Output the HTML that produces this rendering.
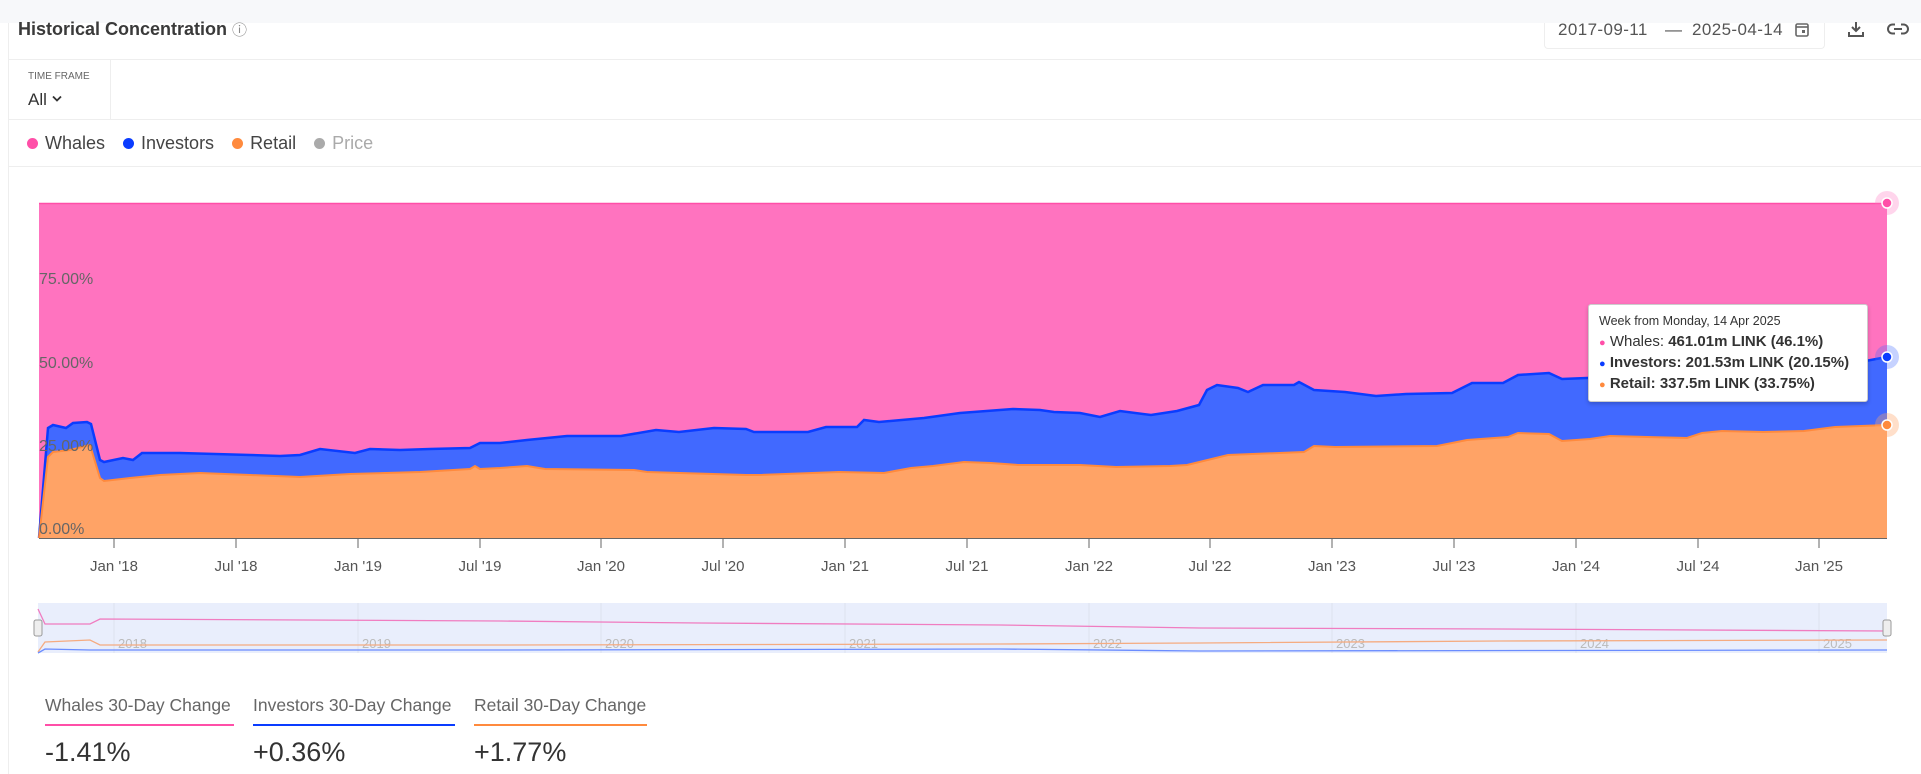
<!DOCTYPE html>
<html><head><meta charset="utf-8"><style>
*{margin:0;padding:0;box-sizing:border-box}
body{width:1921px;height:774px;background:#fff;font-family:"Liberation Sans",sans-serif;position:relative;overflow:hidden;color:#333}
.a{position:absolute;white-space:nowrap}
</style></head><body>
<div class="a" style="left:0;top:0;width:1921px;height:23px;background:#f7f8fa"></div>
<div class="a" style="left:8px;top:23px;width:1px;height:751px;background:#eee"></div>
<div class="a" style="left:18px;top:19px;font-size:18px;font-weight:bold;color:#3a3a3a">Historical Concentration <span style="font-weight:normal;color:#888;font-size:15px">ⓘ</span></div>
<div class="a" style="left:1544px;top:23px;width:281px;height:26px;border:1px solid #eee;border-top:none;border-radius:0 0 4px 4px"></div>
<div class="a" style="left:1558px;top:20px;font-size:17px;color:#555;letter-spacing:0.4px">2017-09-11</div>
<div class="a" style="left:1665px;top:20px;font-size:17px;color:#555">—</div>
<div class="a" style="left:1692px;top:20px;font-size:17px;color:#555;letter-spacing:0.4px">2025-04-14</div>
<svg class="a" style="left:1795px;top:22px" width="14" height="15"><rect x="1" y="2" width="12" height="12" rx="1.5" fill="none" stroke="#666" stroke-width="1.6"/><line x1="1" y1="5" x2="13" y2="5" stroke="#666" stroke-width="1.6"/><rect x="7" y="8" width="3" height="3" fill="#666"/></svg>
<svg class="a" style="left:1847px;top:20px" width="18" height="18"><path d="M9 2v9M5 7l4 4 4-4M2 12v4h14v-4" fill="none" stroke="#555" stroke-width="2"/></svg>
<svg class="a" style="left:1887px;top:22px" width="22" height="14"><path d="M8 2.5H5.5a4.5 4.5 0 0 0 0 9H8M14 2.5h2.5a4.5 4.5 0 0 1 0 9H14M7 7h8" fill="none" stroke="#555" stroke-width="2"/></svg>
<div class="a" style="left:9px;top:59px;width:1912px;height:1px;background:#eee"></div>
<div class="a" style="left:110px;top:60px;width:1px;height:59px;background:#eee"></div>
<div class="a" style="left:28px;top:71px;font-size:10px;color:#666">TIME FRAME</div>
<div class="a" style="left:28px;top:90px;font-size:17px;color:#333">All</div>
<svg class="a" style="left:52px;top:95px" width="10" height="8"><path d="M1 1.5l4 4 4-4" fill="none" stroke="#333" stroke-width="1.8"/></svg>
<div class="a" style="left:9px;top:119px;width:1912px;height:1px;background:#eee"></div>
<div class="a" style="left:27px;top:133px;font-size:18px;color:#444">
<span style="display:inline-block;width:11px;height:11px;border-radius:50%;background:#ff4fa8;margin-right:7px"></span>Whales
<span style="display:inline-block;width:11px;height:11px;border-radius:50%;background:#0a3cff;margin:0 7px 0 13px"></span>Investors
<span style="display:inline-block;width:11px;height:11px;border-radius:50%;background:#ff8a3d;margin:0 7px 0 13px"></span>Retail
<span style="display:inline-block;width:11px;height:11px;border-radius:50%;background:#aaa;margin:0 7px 0 13px"></span><span style="color:#aaa">Price</span></div>
<div class="a" style="left:9px;top:166px;width:1912px;height:1px;background:#eee"></div>

<svg class="a" style="left:0;top:0" width="1921" height="774">
<rect x="39" y="203" width="1848" height="335" fill="#ff73bf"/>
<line x1="39" y1="203.5" x2="1887" y2="203.5" stroke="#ff4fa8" stroke-width="1.5"/>
<polygon fill="#4169ff" points="39,538 48,428 53,425 66,428 73,423 87,422 91,424 100,460 104,462 123,458 133,460 142,453 180,453 250,455 280,456 300,455 320,449 355,453 370,449 400,450 430,449 470,448 480,443 500,443 527,440 567,436 621,436 656,430 679,432 714,428 746,429 754,432 808,432 826,427 857,427 864,420 879,422 924,418 960,413 1013,409 1040,410 1054,412 1080,413 1100,417 1120,411 1151,415 1177,411 1199,405 1207,390 1217,385 1238,388 1248,392 1263,385 1294,385 1299,382 1314,390 1345,392 1376,396 1406,394 1452,393 1472,383 1503,383 1518,375 1549,373 1562,379 1587,378 1650,376 1720,373 1800,368 1860,362 1887,357 1887,538"/>
<polyline fill="none" stroke="#0a3cff" stroke-width="2.5" points="39,538 48,428 53,425 66,428 73,423 87,422 91,424 100,460 104,462 123,458 133,460 142,453 180,453 250,455 280,456 300,455 320,449 355,453 370,449 400,450 430,449 470,448 480,443 500,443 527,440 567,436 621,436 656,430 679,432 714,428 746,429 754,432 808,432 826,427 857,427 864,420 879,422 924,418 960,413 1013,409 1040,410 1054,412 1080,413 1100,417 1120,411 1151,415 1177,411 1199,405 1207,390 1217,385 1238,388 1248,392 1263,385 1294,385 1299,382 1314,390 1345,392 1376,396 1406,394 1452,393 1472,383 1503,383 1518,375 1549,373 1562,379 1587,378 1650,376 1720,373 1800,368 1860,362 1887,357"/>
<polygon fill="#ffa366" points="39,538 48,457 53,452 70,450 90,445 100,478 104,481 130,478 160,475 200,473 250,475 300,477 350,474 420,472 470,469 475,466 480,469 500,468 527,466 545,469 634,470 647,472 746,475 759,475 839,472 884,473 911,468 933,466 964,462 991,463 1018,465 1080,465 1116,467 1170,466 1187,465 1228,455 1304,452 1314,446 1335,447 1437,446 1467,440 1508,437 1518,433 1549,434 1562,441 1590,439 1610,436 1687,438 1702,433 1722,431 1763,432 1804,431 1835,427 1887,425 1887,538"/>
<polyline fill="none" stroke="#ff8a3d" stroke-width="2" points="39,538 48,457 53,452 70,450 90,445 100,478 104,481 130,478 160,475 200,473 250,475 300,477 350,474 420,472 470,469 475,466 480,469 500,468 527,466 545,469 634,470 647,472 746,475 759,475 839,472 884,473 911,468 933,466 964,462 991,463 1018,465 1080,465 1116,467 1170,466 1187,465 1228,455 1304,452 1314,446 1335,447 1437,446 1467,440 1508,437 1518,433 1549,434 1562,441 1590,439 1610,436 1687,438 1702,433 1722,431 1763,432 1804,431 1835,427 1887,425"/>
<g font-family="Liberation Sans" font-size="16" fill="#666">
<text x="39" y="284">75.00%</text><text x="39" y="368">50.00%</text><text x="39" y="451">25.00%</text><text x="39" y="534">0.00%</text>
</g>
<line x1="39" y1="538.5" x2="1887" y2="538.5" stroke="#666" stroke-width="1"/>
<g stroke="#666" stroke-width="1">
<line x1="114" y1="538" x2="114" y2="548"/><line x1="236" y1="538" x2="236" y2="548"/><line x1="358" y1="538" x2="358" y2="548"/><line x1="480" y1="538" x2="480" y2="548"/><line x1="601" y1="538" x2="601" y2="548"/><line x1="723" y1="538" x2="723" y2="548"/><line x1="845" y1="538" x2="845" y2="548"/><line x1="967" y1="538" x2="967" y2="548"/><line x1="1089" y1="538" x2="1089" y2="548"/><line x1="1210" y1="538" x2="1210" y2="548"/><line x1="1332" y1="538" x2="1332" y2="548"/><line x1="1454" y1="538" x2="1454" y2="548"/><line x1="1576" y1="538" x2="1576" y2="548"/><line x1="1698" y1="538" x2="1698" y2="548"/><line x1="1819" y1="538" x2="1819" y2="548"/>
</g>
<g font-family="Liberation Sans" font-size="15" fill="#555" text-anchor="middle">
<text x="114" y="571">Jan '18</text><text x="236" y="571">Jul '18</text><text x="358" y="571">Jan '19</text><text x="480" y="571">Jul '19</text><text x="601" y="571">Jan '20</text><text x="723" y="571">Jul '20</text><text x="845" y="571">Jan '21</text><text x="967" y="571">Jul '21</text><text x="1089" y="571">Jan '22</text><text x="1210" y="571">Jul '22</text><text x="1332" y="571">Jan '23</text><text x="1454" y="571">Jul '23</text><text x="1576" y="571">Jan '24</text><text x="1698" y="571">Jul '24</text><text x="1819" y="571">Jan '25</text>
</g>
<circle cx="1887" cy="203" r="12" fill="#ff73bf" opacity="0.3"/><circle cx="1887" cy="203" r="5" fill="#ff4fa8" stroke="#fff" stroke-width="1.5"/>
<circle cx="1887" cy="357" r="12" fill="#4169ff" opacity="0.3"/><circle cx="1887" cy="357" r="5" fill="#0a3cff" stroke="#fff" stroke-width="1.5"/>
<circle cx="1887" cy="425" r="12" fill="#ffa366" opacity="0.35"/><circle cx="1887" cy="425" r="5" fill="#ff8a3d" stroke="#fff" stroke-width="1.5"/>
<rect x="38" y="603" width="1849" height="50" fill="#e9eefc"/>
<g stroke="#dde2ee" stroke-width="1"><line x1="114" y1="603" x2="114" y2="653"/><line x1="358" y1="603" x2="358" y2="653"/><line x1="601" y1="603" x2="601" y2="653"/><line x1="845" y1="603" x2="845" y2="653"/><line x1="1089" y1="603" x2="1089" y2="653"/><line x1="1332" y1="603" x2="1332" y2="653"/><line x1="1576" y1="603" x2="1576" y2="653"/><line x1="1819" y1="603" x2="1819" y2="653"/></g>
<g font-family="Liberation Sans" font-size="13" fill="#bbb"><text x="118" y="648">2018</text><text x="362" y="648">2019</text><text x="605" y="648">2020</text><text x="849" y="648">2021</text><text x="1093" y="648">2022</text><text x="1336" y="648">2023</text><text x="1580" y="648">2024</text><text x="1823" y="648">2025</text></g>
<polyline fill="none" stroke="#f07cc0" stroke-width="1.3" points="38,609 45,624 90,624 100,619 500,621 700,623 1000,625 1200,628 1500,629 1887,631"/>
<polyline fill="none" stroke="#f5ab80" stroke-width="1.3" points="38,652 45,642 90,640 100,645 500,645 1000,644 1200,643 1500,641 1887,640"/>
<polyline fill="none" stroke="#6a8cff" stroke-width="1.3" points="38,653 45,649 90,650 500,650 1000,649 1200,651 1887,650"/>
<rect x="34" y="620" width="8" height="16" rx="2" fill="#eee" stroke="#999"/><rect x="1883" y="620" width="8" height="16" rx="2" fill="#eee" stroke="#999"/>
</svg>

<div class="a" style="left:1588px;top:304px;width:280px;height:98px;background:#fff;border:1px solid #ccc;border-radius:3px;box-shadow:0 2px 4px rgba(0,0,0,.2);padding:9px 0 0 10px;font-size:15px;color:#333;line-height:20px">
<div style="font-size:12.5px;line-height:15px;margin-bottom:3px">Week from Monday, 14 Apr 2025</div>
<div><span style="color:#ff4fa8;font-size:11px">●</span> Whales: <b>461.01m LINK (46.1%)</b></div>
<div><span style="color:#0a3cff;font-size:11px">●</span> <b>Investors: 201.53m LINK (20.15%)</b></div>
<div><span style="color:#ff8a3d;font-size:11px">●</span> <b>Retail: 337.5m LINK (33.75%)</b></div>
</div>

<div class="a" style="left:45px;top:695px;font-size:17.5px;color:#666">Whales 30-Day Change</div>
<div class="a" style="left:45px;top:724px;width:189px;height:2px;background:#ff4fa8"></div>
<div class="a" style="left:45px;top:737px;font-size:27px;color:#333">-1.41%</div>
<div class="a" style="left:253px;top:695px;font-size:17.5px;color:#666">Investors 30-Day Change</div>
<div class="a" style="left:253px;top:724px;width:202px;height:2px;background:#0a3cff"></div>
<div class="a" style="left:253px;top:737px;font-size:27px;color:#333">+0.36%</div>
<div class="a" style="left:474px;top:695px;font-size:17.5px;color:#666">Retail 30-Day Change</div>
<div class="a" style="left:474px;top:724px;width:173px;height:2px;background:#ff8a3d"></div>
<div class="a" style="left:474px;top:737px;font-size:27px;color:#333">+1.77%</div>
</body></html>
